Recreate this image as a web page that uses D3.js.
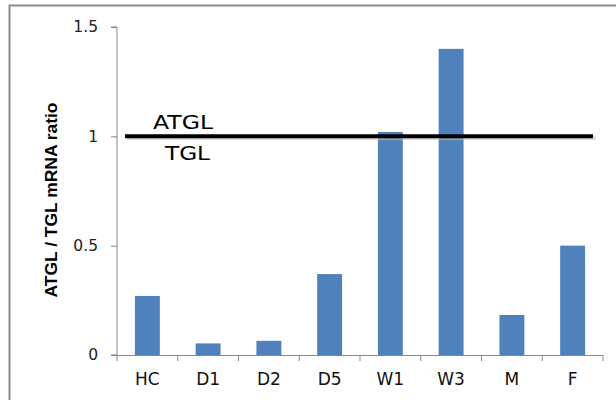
<!DOCTYPE html>
<html>
<head>
<meta charset="utf-8">
<script src="https://cdn.jsdelivr.net/npm/d3@7"></script>
<style>
body { margin: 0; background: #fff; }
</style>
</head>
<body>
<script>
var wd = 616
var ht = 400

var groups = ["HC", "D1", "D2", "D5", "W1", "W3", "M", "F"]
var ratios = [0.27, 0.053, 0.065, 0.37, 1.02, 1.40, 0.183, 0.50]
var yTicks = [0, 0.5, 1, 1.5]
var refLevel = 1

var svgCont = d3.select("body").append("svg")
.attr("width", wd)
.attr("height", ht)

// outer frame (only top and left edges show)
svgCont.append("path")
.attr("d", "M9.5," + ht + "V5.5H" + wd)
.attr("fill", "none")
.attr("stroke", "#8c8c8c")
.attr("stroke-width", 2)

var x = d3.scaleBand()
.domain(groups)
.range([117, 603])
.paddingInner(0.59)
.paddingOuter(0.295)

var y = d3.scaleLinear()
.domain([0, 1.5])
.range([355, 27])

// bars
svgCont.selectAll(".bar")
.data(groups)
.enter()
.append("rect")
.attr("class", "bar")
.attr("x", function(d) { return x(d) })
.attr("width", x.bandwidth())
.attr("y", function(d, i) { return y(ratios[i]) })
.attr("height", function(d, i) { return y(0) - y(ratios[i]) })
.attr("fill", "#4f81bd")

// y axis
var yAxis = svgCont.append("g")
.attr("transform", "translate(117,0)")
.call(d3.axisLeft(y).tickValues(yTicks).tickSize(6).tickPadding(13)
  .tickFormat(function(d) { return d3.format("")(d) }))
yAxis.select(".domain").attr("stroke", "#868686").attr("d", "M-6," + y(1.5) + "H0V" + y(0) + "H-6")
yAxis.selectAll(".tick line").attr("stroke", "#868686")
yAxis.selectAll("text")
.attr("font-family", "'DejaVu Sans', sans-serif")
.attr("font-size", 15.5)
.attr("fill", "#222")

// x axis with ticks at band boundaries
var bounds = d3.range(groups.length + 1).map(function(i) { return 117 + i * (603 - 117) / groups.length })
var xg = svgCont.append("g")
xg.append("line")
.attr("x1", 117).attr("x2", 603)
.attr("y1", y(0) + 0.5).attr("y2", y(0) + 0.5)
.attr("stroke", "#868686")
xg.selectAll(".xt")
.data(bounds)
.enter()
.append("line")
.attr("x1", function(d) { return d }).attr("x2", function(d) { return d })
.attr("y1", y(0)).attr("y2", y(0) + 6)
.attr("stroke", "#868686")
xg.selectAll(".xl")
.data(groups)
.enter()
.append("text")
.attr("x", function(d) { return x(d) + x.bandwidth() / 2 })
.attr("y", 385)
.attr("text-anchor", "middle")
.attr("font-family", "'DejaVu Sans', sans-serif")
.attr("font-size", 17)
.attr("fill", "#111")
.text(function(d) { return d })

// reference line at ratio 1
svgCont.append("line")
.attr("x1", 127).attr("x2", 596)
.attr("y1", y(refLevel) + 2).attr("y2", y(refLevel) + 2)
.attr("stroke", "#bbb")
.attr("stroke-width", 4)
.attr("opacity", 0.5)
svgCont.append("line")
.attr("x1", 125).attr("x2", 593)
.attr("y1", y(refLevel)).attr("y2", y(refLevel))
.attr("stroke", "#000")
.attr("stroke-width", 4)

svgCont.append("text")
.attr("x", 153).attr("y", 129)
.attr("font-family", "'DejaVu Sans', sans-serif")
.attr("font-size", 19)
.attr("textLength", 60)
.attr("lengthAdjust", "spacingAndGlyphs")
.text("ATGL")
svgCont.append("text")
.attr("x", 165).attr("y", 160)
.attr("font-family", "'DejaVu Sans', sans-serif")
.attr("font-size", 19)
.attr("textLength", 45)
.attr("lengthAdjust", "spacingAndGlyphs")
.text("TGL")

// y title
svgCont.append("text")
.attr("transform", "translate(57,200) rotate(-90)")
.attr("text-anchor", "middle")
.attr("font-family", "'Liberation Sans Narrow', 'Arial Narrow', sans-serif")
.attr("font-weight", "bold")
.attr("font-size", 16.5)
.attr("textLength", 195)
.attr("lengthAdjust", "spacingAndGlyphs")
.text("ATGL / TGL mRNA ratio")
</script>
</body>
</html>
